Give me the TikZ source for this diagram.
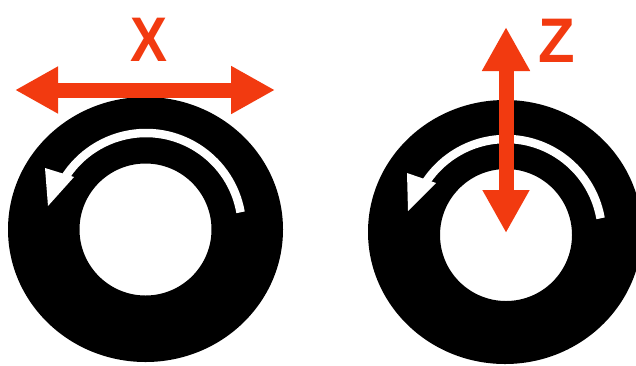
\documentclass[tikz,border=0pt]{standalone}
\usepackage{fontspec}
\usepackage{graphicx}
\setmainfont{Liberation Sans}
\usetikzlibrary{arrows.meta}
\definecolor{axisred}{RGB}{242,58,16}
\tikzset{
  tire/.style={fill=black,even odd rule},
  spin/.style={draw=white,line width=8.5pt},
  spinhead/.style={fill=white},
  redarrow/.style={draw=axisred,line width=15pt,
    {Triangle[length=43pt,width=44pt]}-{Triangle[length=44pt,width=45pt]}},
  axislabel/.style={text=axisred,font=\bfseries\fontsize{63}{63}\selectfont,inner sep=0pt,anchor=center}
}
\begin{document}
\begin{tikzpicture}[x=1pt,y=-1pt]
\useasboundingbox[fill=white] (0,0) rectangle (636,365);
% left tire
\coordinate (lc) at (145.5,229.5);
\fill[tire] (lc) ellipse [x radius=137.5,y radius=132.5] (145.5,229.5) circle [radius=66];
\draw[spin] (146,229) ++(-10:96) arc [start angle=-10,end angle=-152,radius=96];
\fill[spinhead] (45,168) -- (74,177) -- (48,206) -- cycle;
\coordinate (xl) at (15,90);
\coordinate (xr) at (275,90);
\draw[redarrow] (xl) -- (xr);
\node[axislabel] (xlab) at (148.5,40) {\scalebox{0.88}[1]{X}};
% right tire
\coordinate (rc) at (505,232);
\fill[tire] (rc) ellipse [x radius=137,y radius=132] (506,235) circle [radius=66];
\draw[spin] (506,235) ++(-10:96) arc [start angle=-10,end angle=-152,radius=96];
\fill[spinhead] (407,173) -- (436,183) -- (408,211) -- cycle;
\coordinate (zt) at (506,27);
\coordinate (zb) at (506,233);
\draw[redarrow] (zb) -- (zt);
\node[axislabel] (zlab) at (556.5,40.5) {\scalebox{0.95}[1]{Z}};
\end{tikzpicture}
\end{document}
